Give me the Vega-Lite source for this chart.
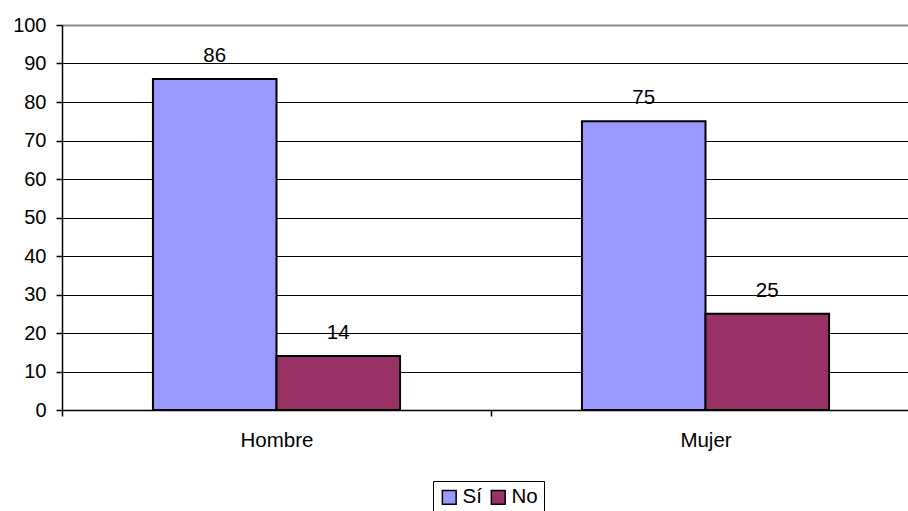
{
  "$schema": "https://vega.github.io/schema/vega-lite/v6.json",
  "width": 846,
  "height": 385,
  "autosize": {"type": "none"},
  "padding": {"left": 62, "top": 25, "right": 0, "bottom": 101},
  "background": "white",
  "config": {"view": {"stroke": null}, "font": "Liberation Sans"},
  "data": {
    "values": [
      {"sexo": "Hombre", "resp": "Sí", "valor": 86},
      {"sexo": "Hombre", "resp": "No", "valor": 14},
      {"sexo": "Mujer", "resp": "Sí", "valor": 75},
      {"sexo": "Mujer", "resp": "No", "valor": 25}
    ]
  },
  "encoding": {
    "x": {
      "field": "sexo",
      "type": "nominal",
      "sort": ["Hombre", "Mujer"],
      "scale": {"range": [0, 858], "paddingInner": 0.424, "paddingOuter": 0.212},
      "axis": {
        "title": null,
        "labelAngle": 0,
        "labelFontSize": 20.5,
        "labelColor": "black",
        "domainColor": "black",
        "domainWidth": 1.5,
        "tickColor": "black",
        "tickWidth": 1.5,
        "tickSize": 6,
        "tickOffset": -214.5,
        "labelOffset": 214.5,
        "labelPadding": 14,
        "grid": false
      }
    },
    "xOffset": {
      "field": "resp",
      "type": "nominal",
      "sort": ["Sí", "No"],
      "scale": {"paddingInner": 0, "paddingOuter": 0}
    },
    "y": {
      "field": "valor",
      "type": "quantitative",
      "scale": {"domain": [0, 100], "nice": false},
      "axis": {
        "title": null,
        "values": [0, 10, 20, 30, 40, 50, 60, 70, 80, 90, 100],
        "labelFontSize": 20,
        "labelColor": "black",
        "labelPadding": 10,
        "domainColor": "black",
        "domainWidth": 1.5,
        "tickColor": "black",
        "tickWidth": 1.5,
        "tickSize": 6,
        "grid": true,
        "gridColor": {"condition": {"test": "datum.value === 100", "value": "#888888"}, "value": "black"},
        "gridWidth": {"condition": {"test": "datum.value === 100", "value": 2}, "value": 1}
      }
    }
  },
  "layer": [
    {
      "mark": {"type": "bar", "stroke": "black", "strokeWidth": 2},
      "encoding": {
        "color": {
          "field": "resp",
          "type": "nominal",
          "scale": {"domain": ["Sí", "No"], "range": ["#9999FF", "#993366"]},
          "legend": {
            "title": null,
            "orient": "none",
            "legendX": 371,
            "legendY": 456,
            "direction": "horizontal",
            "symbolType": "square",
            "symbolSize": 190,
            "symbolStrokeColor": "black",
            "symbolStrokeWidth": 1.5,
            "labelFontSize": 20.5,
            "labelColor": "black",
            "labelOffset": 3,
            "columnPadding": 6,
            "padding": 6,
            "strokeColor": "black",
            "fillColor": "white"
          }
        }
      }
    },
    {
      "mark": {"type": "text", "baseline": "alphabetic", "dy": -17, "fontSize": 20.5, "color": "black"},
      "encoding": {"text": {"field": "valor", "type": "quantitative"}}
    }
  ]
}
